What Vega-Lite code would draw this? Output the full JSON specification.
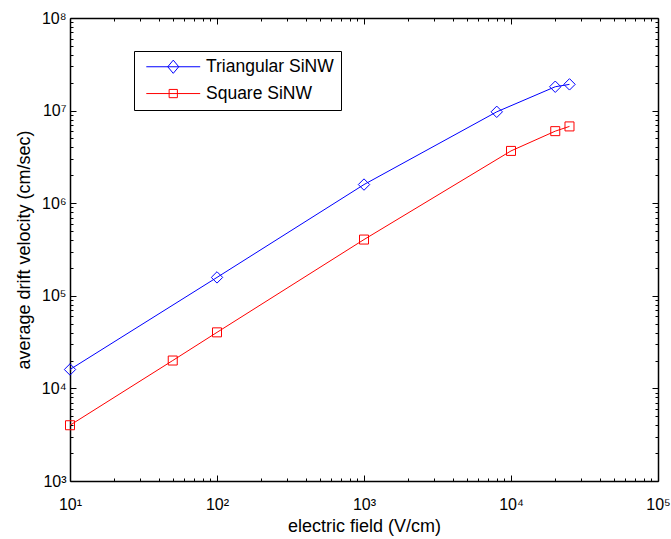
{
  "$schema": "https://vega.github.io/schema/vega-lite/v6.json",
  "width": 588,
  "height": 463,
  "autosize": "none",
  "padding": {"left": 70, "top": 18, "right": 13, "bottom": 58},
  "background": "white",
  "config": {
    "view": {"stroke": null},
    "font": "Liberation Sans",
    "axis": {
      "grid": false,
      "domainColor": "black",
      "domainWidth": 1.5,
      "tickColor": "black",
      "tickWidth": 1,
      "labelColor": "black",
      "labelFont": "Liberation Sans",
      "labelFontSize": 16,
      "titleColor": "black",
      "titleFont": "Liberation Sans",
      "titleFontSize": 18,
      "titleFontWeight": "normal"
    },
    "legend": {
      "orient": "none",
      "legendX": 64,
      "legendY": 33,
      "padding": 7,
      "strokeColor": "black",
      "fillColor": "white",
      "cornerRadius": 0,
      "symbolSize": 121,
      "symbolStrokeWidth": 1,
      "symbolOpacity": 1,
      "symbolOffset": 23.5,
      "labelOffset": 24,
      "rowPadding": 7.8,
      "labelFont": "Liberation Sans",
      "labelFontSize": 17.5,
      "labelColor": "black",
      "labelLimit": 300
    }
  },
  "data": {
    "values": [
      {"series": "Triangular SiNW", "efield": 10, "velocity": 16000},
      {"series": "Triangular SiNW", "efield": 100, "velocity": 158000},
      {"series": "Triangular SiNW", "efield": 1000, "velocity": 1590000},
      {"series": "Triangular SiNW", "efield": 8000, "velocity": 9700000},
      {"series": "Triangular SiNW", "efield": 20000, "velocity": 18100000},
      {"series": "Triangular SiNW", "efield": 25000, "velocity": 19200000},
      {"series": "Square SiNW", "efield": 10, "velocity": 4000},
      {"series": "Square SiNW", "efield": 50, "velocity": 20000},
      {"series": "Square SiNW", "efield": 100, "velocity": 40300},
      {"series": "Square SiNW", "efield": 1000, "velocity": 405000},
      {"series": "Square SiNW", "efield": 10000, "velocity": 3670000},
      {"series": "Square SiNW", "efield": 20000, "velocity": 6000000},
      {"series": "Square SiNW", "efield": 25000, "velocity": 6750000}
    ]
  },
  "layer": [
    {
      "mark": {"type": "line", "strokeWidth": 1},
      "encoding": {
        "x": {
          "field": "efield", "type": "quantitative",
          "scale": {"type": "log", "domain": [10, 100000], "nice": false, "zero": false},
          "axis": {
            "orient": "bottom",
            "values": [10, 100, 1000, 10000, 100000],
            "tickSize": -6,
            "labelPadding": 34,
            "labelBaseline": "alphabetic",
            "labelFlush": false,
            "labelOverlap": false,
            "labelExpr": "'10' + substring('⁰¹²³⁴⁵⁶⁷⁸⁹', round(log(datum.value)/LN10), round(log(datum.value)/LN10) + 1)",
            "title": "electric field (V/cm)",
            "titlePadding": 5
          }
        },
        "y": {
          "field": "velocity", "type": "quantitative",
          "scale": {"type": "log", "domain": [1000, 100000000], "nice": false, "zero": false},
          "axis": {
            "orient": "left",
            "values": [1000, 10000, 100000, 1000000, 10000000, 100000000],
            "tickSize": -6,
            "labelPadding": 10,
            "labelFlush": false,
            "labelOverlap": false,
            "labelExpr": "'10' + substring('⁰¹²³⁴⁵⁶⁷⁸⁹', round(log(datum.value)/LN10), round(log(datum.value)/LN10) + 1)",
            "title": "average drift velocity (cm/sec)",
            "titlePadding": 8
          }
        },
        "color": {
          "field": "series", "type": "nominal",
          "scale": {"domain": ["Triangular SiNW", "Square SiNW"], "range": ["#0000ff", "#ff0000"]},
          "legend": null
        }
      }
    },
    {
      "mark": {"type": "point", "filled": false, "strokeWidth": 1, "opacity": 1},
      "encoding": {
        "x": {
          "field": "efield", "type": "quantitative",
          "axis": {
            "orient": "bottom",
            "values": [20, 30, 40, 50, 60, 70, 80, 90, 200, 300, 400, 500, 600, 700, 800, 900, 2000, 3000, 4000, 5000, 6000, 7000, 8000, 9000, 20000, 30000, 40000, 50000, 60000, 70000, 80000, 90000],
            "tickSize": -3,
            "labels": false,
            "domain": false,
            "title": null
          }
        },
        "y": {
          "field": "velocity", "type": "quantitative",
          "axis": {
            "orient": "left",
            "values": [2000, 3000, 4000, 5000, 6000, 7000, 8000, 9000, 20000, 30000, 40000, 50000, 60000, 70000, 80000, 90000, 200000, 300000, 400000, 500000, 600000, 700000, 800000, 900000, 2000000, 3000000, 4000000, 5000000, 6000000, 7000000, 8000000, 9000000, 20000000, 30000000, 40000000, 50000000, 60000000, 70000000, 80000000, 90000000],
            "tickSize": -3,
            "labels": false,
            "domain": false,
            "title": null
          }
        },
        "color": {
          "field": "series", "type": "nominal",
          "scale": {"domain": ["Triangular SiNW", "Square SiNW"], "range": ["#0000ff", "#ff0000"]},
          "legend": null
        },
        "shape": {
          "field": "series", "type": "nominal",
          "scale": {"domain": ["Triangular SiNW", "Square SiNW"], "range": ["diamond", "square"]},
          "legend": null
        },
        "size": {
          "field": "series", "type": "nominal",
          "scale": {"domain": ["Triangular SiNW", "Square SiNW"], "range": [130, 81]},
          "legend": null
        }
      }
    },
    {
      "mark": {"type": "point", "filled": false, "strokeWidth": 1, "opacity": 0},
      "encoding": {
        "x": {
          "field": "efield", "type": "quantitative",
          "axis": {
            "orient": "top",
            "values": [10, 100, 1000, 10000, 100000],
            "tickSize": -6,
            "labels": false,
            "title": null
          }
        },
        "y": {
          "field": "velocity", "type": "quantitative",
          "axis": {
            "orient": "right",
            "values": [1000, 10000, 100000, 1000000, 10000000, 100000000],
            "tickSize": -6,
            "labels": false,
            "title": null
          }
        },
        "color": {
          "field": "series", "type": "nominal",
          "scale": {"domain": ["Triangular SiNW", "Square SiNW"], "range": ["#0000ff", "#ff0000"]},
          "legend": {"title": null}
        },
        "shape": {
          "field": "series", "type": "nominal",
          "scale": {
            "domain": ["Triangular SiNW", "Square SiNW"],
            "range": ["M-4.9,0L4.9,0M-1,0L0,-1.2L1,0L0,1.2Z", "M-4.9,0L4.9,0M-0.75,-0.75L0.75,-0.75L0.75,0.75L-0.75,0.75Z"]
          },
          "legend": {"title": null}
        }
      }
    },
    {
      "mark": {"type": "point", "opacity": 0},
      "encoding": {
        "x": {
          "field": "efield", "type": "quantitative",
          "axis": {
            "orient": "top",
            "values": [20, 30, 40, 50, 60, 70, 80, 90, 200, 300, 400, 500, 600, 700, 800, 900, 2000, 3000, 4000, 5000, 6000, 7000, 8000, 9000, 20000, 30000, 40000, 50000, 60000, 70000, 80000, 90000],
            "tickSize": -3,
            "labels": false,
            "domain": false,
            "title": null
          }
        },
        "y": {
          "field": "velocity", "type": "quantitative",
          "axis": {
            "orient": "right",
            "values": [2000, 3000, 4000, 5000, 6000, 7000, 8000, 9000, 20000, 30000, 40000, 50000, 60000, 70000, 80000, 90000, 200000, 300000, 400000, 500000, 600000, 700000, 800000, 900000, 2000000, 3000000, 4000000, 5000000, 6000000, 7000000, 8000000, 9000000, 20000000, 30000000, 40000000, 50000000, 60000000, 70000000, 80000000, 90000000],
            "tickSize": -3,
            "labels": false,
            "domain": false,
            "title": null
          }
        }
      }
    }
  ],
  "resolve": {
    "axis": {"x": "independent", "y": "independent"},
    "scale": {"shape": "independent", "color": "independent"}
  }
}
